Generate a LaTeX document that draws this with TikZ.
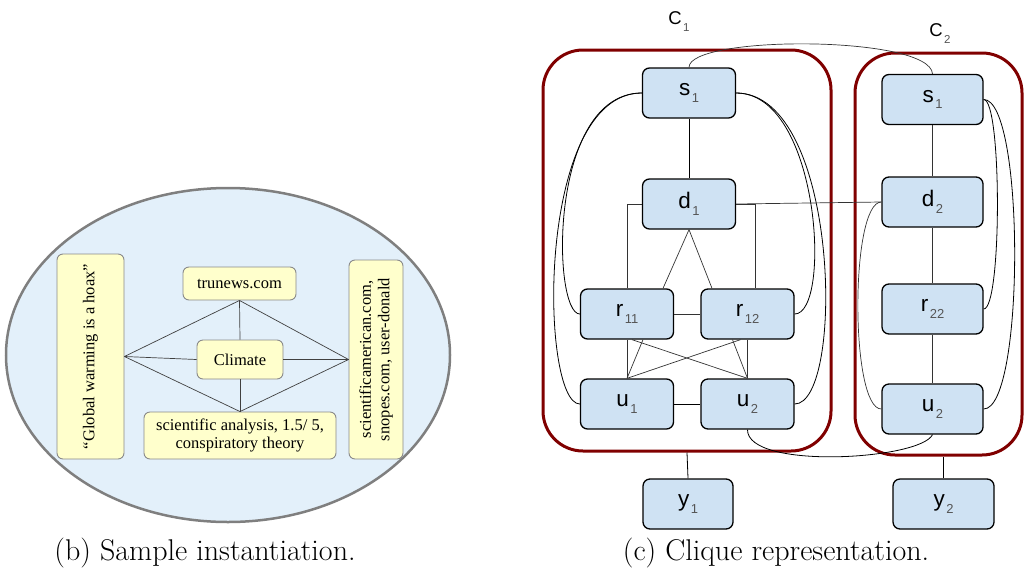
\documentclass[tikz,border=0pt]{standalone}
\usepackage{fontspec}
\newfontfamily\serifT{Liberation Serif}
\newfontfamily\sansA{Liberation Sans}
\definecolor{nodeblue}{HTML}{CFE2F3}
\definecolor{subgray}{HTML}{555555}
\definecolor{cliquered}{HTML}{800000}
\definecolor{ellfill}{HTML}{E3F0FA}
\definecolor{ellline}{HTML}{7F7F7F}
\definecolor{lightyellow}{HTML}{FFFFCC}
\definecolor{boxgray}{HTML}{8A8A8A}
\definecolor{linegray}{HTML}{404040}
\newcommand{\lbl}[2]{#1\kern1.5pt\raisebox{-6.5pt}{\fontsize{13}{13}\selectfont\color{subgray}#2}}
\newcommand{\clbl}[2]{#1\kern1.5pt\raisebox{-7pt}{\fontsize{11.5}{11.5}\selectfont\color{subgray}#2}}
\begin{document}
\begin{tikzpicture}[x=1pt,y=-1pt,
  bnode/.style={draw=black, line width=1.3pt, fill=nodeblue, rounded corners=7pt,
    inner sep=0pt, font=\sansA\fontsize{22.5}{22.5}\selectfont},
  bsmall/.style={bnode, minimum width=93pt, minimum height=50pt},
  bwide/.style={bnode, minimum width=101pt, minimum height=50pt},
  ynode/.style={draw=boxgray, line width=0.9pt, fill=lightyellow, rounded corners=6pt,
    inner sep=0pt, align=center, font=\serifT\fontsize{16.5}{18.5}\selectfont},
  clique/.style={draw=cliquered, line width=3pt, rounded corners=40pt, inner sep=0pt},
  ylink/.style={draw=linegray, line width=0.7pt},
  blink/.style={draw=black, line width=0.8pt},
  glink/.style={draw=black!80, line width=0.7pt},
  caption/.style={font=\fontsize{30}{30}\selectfont}
]
\useasboundingbox (0,0) rectangle (1024,573);

% ---------- left: sample instantiation ----------
\draw[fill=ellfill, draw=ellline, line width=2.5pt] (228,355) ellipse [x radius=222pt, y radius=167pt];
\node[ynode, rotate=90, minimum width=205pt, minimum height=67pt] (gw) at (90.5,356.5) {“Global warming is a hoax”};
\node[ynode, minimum width=113pt, minimum height=33pt] (tr) at (239.5,283.5) {trunews.com};
\node[ynode, minimum width=86pt, minimum height=39pt] (cl) at (240,359.5) {Climate};
\node[ynode, minimum width=192pt, minimum height=47pt] (sa) at (240,435.5) {scientific analysis, 1.5/ 5,\\conspiratory theory};
\node[ynode, rotate=90, minimum width=199pt, minimum height=54pt] (sc) at (376,359.5) {scientificamerican.com,\\snopes.com, user-donald};

\path[ylink] (gw.south) -- (tr.south);
\path[ylink] (gw.south) -- (cl.west);
\path[ylink] (gw.south) -- (sa.north);
\path[ylink] (tr.south) -- (cl.north);
\path[ylink] (cl.south) -- (sa.north);
\path[ylink] (sc.north) -- (tr.south);
\path[ylink] (sc.north) -- (cl.east);
\path[ylink] (sc.north) -- (sa.north);

\node[caption] (capb) at (205,553) {(b) Sample instantiation.};

% ---------- right: clique representation ----------
\node[clique, minimum width=288pt, minimum height=401pt] (C1) at (687,250.5) {};
\node[clique, minimum width=167pt, minimum height=402pt] (C2) at (938.5,254) {};
\node[font=\sansA\fontsize{18.5}{18.5}\selectfont] (c1lab) at (679,22) {\clbl{C}{1}};
\node[font=\sansA\fontsize{18.5}{18.5}\selectfont] (c2lab) at (940,34) {\clbl{C}{2}};

\node[bsmall] (s1) at (689,93) {\lbl{s}{1}};
\node[bsmall] (d1) at (689,204) {\lbl{d}{1}};
\node[bsmall] (r11) at (627,314) {\lbl{r}{11}};
\node[bsmall] (r12) at (747.5,314) {\lbl{r}{12}};
\node[bsmall] (u1) at (627,404) {\lbl{u}{1}};
\node[bsmall] (u2) at (747.5,404) {\lbl{u}{2}};
\node[bsmall, minimum width=90pt] (y1) at (688,504) {\lbl{y}{1}};

\node[bwide] (sB) at (932.5,99.5) {\lbl{s}{1}};
\node[bwide] (d2) at (932.5,202) {\lbl{d}{2}};
\node[bwide] (r22) at (932.5,309) {\lbl{r}{22}};
\node[bwide] (uB) at (932.5,409) {\lbl{u}{2}};
\node[bwide] (y2) at (943.5,504) {\lbl{y}{2}};

% C1 edges
\path[blink] (s1) -- (d1);
\path[blink] (s1.west) .. controls (548,93) and (552,314) .. (r11.west);
\path[blink] (s1.west) .. controls (535,93) and (540,404) .. (u1.west);
\path[blink] (s1.east) .. controls (820,93) and (832,314) .. (r12.east);
\path[blink] (s1.east) .. controls (840,93) and (845,404) .. (u2.east);
\path[glink] (d1.west) -| (r11.north);
\path[glink] (d1.east) -| ([xshift=7.5pt]r12.north);
\path[glink] (d1.east) -- (d2.west);
\path[glink] (d1.south) -- ([xshift=36pt]r11.north);
\path[glink] (d1.south) -- ([xshift=-35.5pt]r12.north);
\path[glink] (r11.east) -- (r12.west);
\path[glink] (r11.south) -- (u1.north);
\path[glink] ([xshift=16pt]r11.south) -- (u1.north);
\path[glink] ([xshift=5pt]r11.south) -- (u2.north);
\path[glink] ([xshift=-7pt]r12.south) -- (u1.north);
\path[glink] ([xshift=-15pt]r12.south) -- (u2.north);
\path[glink] (r12.south) -- (u2.north);
\path[blink] (u1.east) -- (u2.west);
\path[blink] (C1.south) -- (y1.north);

% cross-clique edges
\path[glink] (s1.north) .. controls (689,35) and (930,35) .. (sB.north);
\path[blink] (u2.south) .. controls (747,470) and (920,460) .. (uB.south);

% C2 edges
\path[glink] (sB) -- (d2);
\path[glink] (d2) -- (r22);
\path[glink] (r22) -- (uB);
\path[blink] (sB.east) .. controls (1002,99.5) and (1002,309) .. (r22.east);
\path[blink] (sB.east) .. controls (1025,99.5) and (1025,409) .. (uB.east);
\path[glink] (d2.west) .. controls (850,202) and (850,409) .. (uB.west);
\path[blink] (y2.north) -- (y2.north |- C2.south);

\node[caption] (capc) at (776,553) {(c) Clique representation.};
\end{tikzpicture}
\end{document}
